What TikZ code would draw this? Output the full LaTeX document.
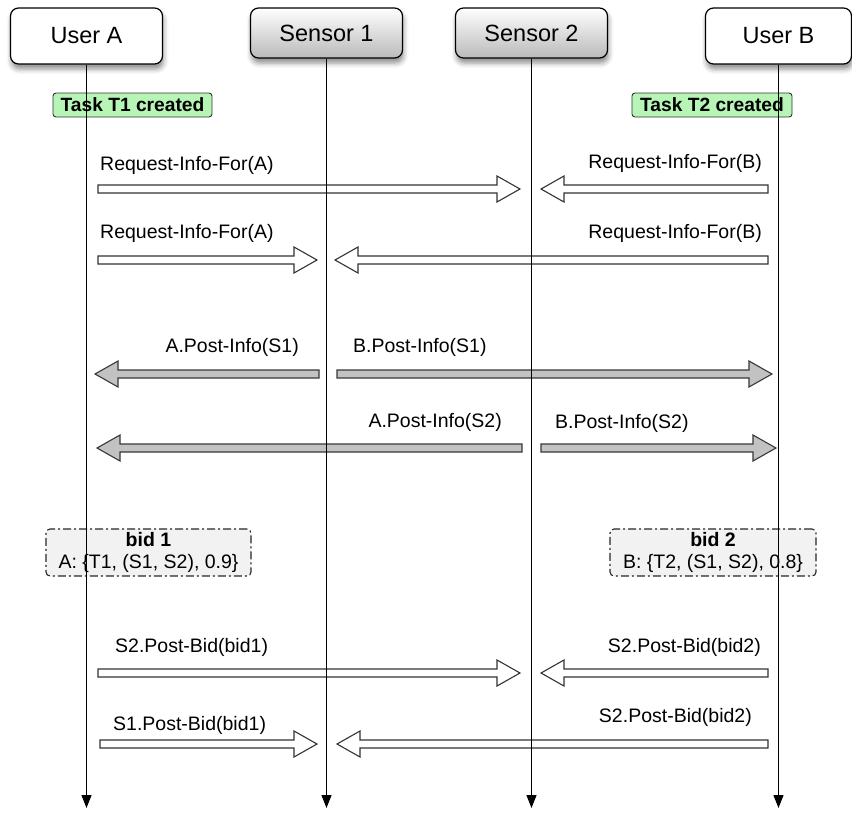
\documentclass[tikz,border=0pt]{standalone}
\usepackage{fontspec}
\setmainfont{Liberation Sans}
\usetikzlibrary{calc,shadows.blur,arrows.meta}

\definecolor{taskgreen}{HTML}{B6F5B6}
\definecolor{postgray}{HTML}{C2C2C2}
\definecolor{bidgray}{HTML}{F2F2F2}
\definecolor{edgegray}{HTML}{333333}

\pgfdeclarelayer{front}
\pgfsetlayers{main,front}

% horizontal block arrow from a tail coordinate to a tip coordinate
\newcommand{\blockarrow}[3]{%
  \draw[#1] let \p1=(#2), \p2=(#3), \n1={sign(\x2-\x1)} in
    (\x1,\y1+4pt) -- (\x2-\n1*23pt,\y1+4pt) -- (\x2-\n1*23pt,\y1+13pt)
    -- (\x2,\y1) -- (\x2-\n1*23pt,\y1-13pt) -- (\x2-\n1*23pt,\y1-4pt)
    -- (\x1,\y1-4pt) -- cycle;}

\tikzset{
  actor/.style={draw=black, line width=1.2pt, rounded corners=8pt,
    minimum width=152pt, inner sep=0pt,
    font=\fontsize{23.5}{28}\selectfont,
    blur shadow={shadow xshift=1pt, shadow yshift=-5pt,
      shadow blur radius=5pt, shadow opacity=45}},
  useractor/.style={actor, fill=white, minimum height=56pt},
  sensoractor/.style={actor, minimum height=50pt,
    top color=white, bottom color=black!27},
  lifeline/.style={line width=1.2pt, -{Triangle[length=13pt,width=10pt]}},
  taskbox/.style={draw=edgegray, line width=0.9pt, fill=taskgreen,
    rounded corners=3pt, inner sep=0pt, minimum height=24pt,
    font=\bfseries\fontsize{19.2}{22}\selectfont},
  bidbox/.style={draw=black!85, line width=1.1pt, fill=bidgray,
    rounded corners=4pt, inner sep=0pt, minimum height=47pt, align=center,
    dash pattern=on 8pt off 3pt on 2pt off 3pt,
    font=\fontsize{19.5}{22}\selectfont},
  msg/.style={inner sep=0pt, font=\fontsize{19.5}{22}\selectfont},
  request/.style={draw=edgegray, line width=1.1pt, fill=white},
  post/.style={draw=black!78, line width=1.1pt, fill=postgray},
}

\begin{document}
\begin{tikzpicture}[x=1pt, y=-1pt]
\useasboundingbox (0,0) rectangle (852,812);

% participants, kept above their lifelines
\begin{pgfonlayer}{front}
\node[useractor] (ua) at (86.5,36) {User A};
\node[sensoractor] (s1) at (326.5,33) {Sensor 1};
\node[sensoractor] (s2) at (531.5,33) {Sensor 2};
\node[useractor, minimum width=146pt] (ub) at (778.5,36) {User B};
\end{pgfonlayer}

\coordinate (ua-end) at (86.5,808);
\coordinate (s1-end) at (326.5,808);
\coordinate (s2-end) at (531.5,808);
\coordinate (ub-end) at (778.5,808);

% task creation notes
\node[taskbox, minimum width=159pt] (t1) at (132.5,105) {Task T1 created};
\node[taskbox, minimum width=160pt] (t2) at (712,105) {Task T2 created};

% request rows
\coordinate (r1a) at (98,189);   \coordinate (r1at) at (520,189);
\coordinate (r1b) at (768,189);  \coordinate (r1bt) at (541,189);
\coordinate (r2a) at (98,260);   \coordinate (r2at) at (317,260);
\coordinate (r2b) at (768,260);  \coordinate (r2bt) at (335,260);
\blockarrow{request}{r1a}{r1at}
\blockarrow{request}{r1b}{r1bt}
\blockarrow{request}{r2a}{r2at}
\blockarrow{request}{r2b}{r2bt}
\node[msg, anchor=west] (m1a) at (100,165) {Request-Info-For(A)};
\node[msg, anchor=east] (m1b) at (762,163) {Request-Info-For(B)};
\node[msg, anchor=west] (m2a) at (100,233) {Request-Info-For(A)};
\node[msg, anchor=east] (m2b) at (762,233) {Request-Info-For(B)};

% posted information
\coordinate (p1a) at (319,374);  \coordinate (p1at) at (95,374);
\coordinate (p1b) at (337,374);  \coordinate (p1bt) at (772,374);
\coordinate (p2a) at (522,448);  \coordinate (p2at) at (97,448);
\coordinate (p2b) at (541,448);  \coordinate (p2bt) at (776,448);
\blockarrow{post}{p1a}{p1at}
\blockarrow{post}{p1b}{p1bt}
\blockarrow{post}{p2a}{p2at}
\blockarrow{post}{p2b}{p2bt}
\node[msg, anchor=east] (m3a) at (299,347) {A.Post-Info(S1)};
\node[msg, anchor=west] (m3b) at (353,347) {B.Post-Info(S1)};
\node[msg, anchor=east] (m4a) at (502,422) {A.Post-Info(S2)};
\node[msg, anchor=west] (m4b) at (555,423) {B.Post-Info(S2)};

% bids
\node[bidbox, minimum width=205pt] (bid1) at (148.5,552.5)
  {\textbf{bid 1}\\A: \{T1, (S1, S2), 0.9\}};
\node[bidbox, minimum width=206pt] (bid2) at (713,552.5)
  {\textbf{bid 2}\\B: \{T2, (S1, S2), 0.8\}};

% bid posting rows
\coordinate (b1a) at (98,673);   \coordinate (b1at) at (520,673);
\coordinate (b1b) at (768,673);  \coordinate (b1bt) at (541,673);
\coordinate (b2a) at (100,744);  \coordinate (b2at) at (317,744);
\coordinate (b2b) at (768,744);  \coordinate (b2bt) at (337,744);
\blockarrow{request}{b1a}{b1at}
\blockarrow{request}{b1b}{b1bt}
\blockarrow{request}{b2a}{b2at}
\blockarrow{request}{b2b}{b2bt}
\node[msg, anchor=west] (m5a) at (115,647) {S2.Post-Bid(bid1)};
\node[msg, anchor=east] (m5b) at (761,647) {S2.Post-Bid(bid2)};
\node[msg, anchor=west] (m6a) at (113,725) {S1.Post-Bid(bid1)};
\node[msg, anchor=east] (m6b) at (752,717) {S2.Post-Bid(bid2)};

% lifelines
\draw[lifeline] (ua.south) -- (ua-end);
\draw[lifeline] (s1.south) -- (s1-end);
\draw[lifeline] (s2.south) -- (s2-end);
\draw[lifeline] (ub.south) -- (ub-end);
\end{tikzpicture}
\end{document}
